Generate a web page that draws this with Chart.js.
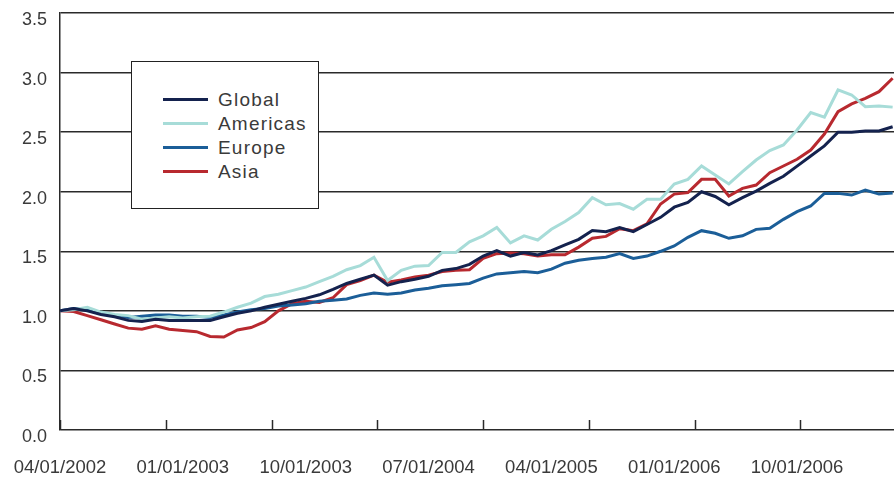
<!DOCTYPE html>
<html>
<head>
<meta charset="utf-8">
<script src="https://cdn.jsdelivr.net/npm/chart.js@4.4.1/dist/chart.umd.min.js"></script>
<style>
  html, body { margin: 0; padding: 0; background: #fff; overflow: hidden; }
  #wrap { position: relative; width: 894px; height: 481px; }
  #legend {
    position: absolute; left: 131px; top: 61px; width: 186px; height: 146px;
    border: 1px solid #222; background: #fff; box-sizing: content-box;
    font-family: "Liberation Sans", Arial, sans-serif; font-size: 19px; color: #3a3a3a;
    letter-spacing: 1.2px;
  }
  #legend .row { position: absolute; left: 0; height: 24px; width: 100%; }
  #legend .swatch { position: absolute; left: 31px; top: 10px; width: 45px; height: 3px; }
  #legend .lbl { position: absolute; left: 86px; top: 0; line-height: 24px; }
</style>
</head>
<body>
<div id="wrap">
  <canvas id="chart" width="894" height="481"></canvas>
  <div id="legend"></div>
</div>
<script>
// month-end index values, 04/2002 onwards (one point per month)
const tickLabels = ['04/01/2002', '01/01/2003', '10/01/2003', '07/01/2004', '04/01/2005', '01/01/2006', '10/01/2006'];
const labelStep = 9;       // one label every 9 months
const tickMarkStep = 7.75; // little tick marks on the date axis

const seriesNames = ['Global', 'Americas', 'Europe', 'Asia'];
const seriesColors = ['#14224e', '#a7dcd8', '#1b5e98', '#b8292f'];

const globalVals = [
  1.00, 1.02, 1.00, 0.97, 0.95, 0.92, 0.91, 0.93, 0.92, 0.92,
  0.92, 0.92, 0.95, 0.98, 1.00, 1.03, 1.055, 1.08, 1.105, 1.135,
  1.18, 1.23, 1.265, 1.30, 1.215, 1.245, 1.265, 1.29, 1.34, 1.355,
  1.39, 1.46, 1.505, 1.46, 1.49, 1.47, 1.505, 1.553, 1.60, 1.675,
  1.665, 1.70, 1.665, 1.725, 1.785, 1.87, 1.91, 2.00, 1.96, 1.89,
  1.95, 2.005, 2.07, 2.13, 2.215, 2.30, 2.385, 2.50, 2.50, 2.51,
  2.51, 2.545
];
const americasVals = [
  1.00, 1.01, 1.03, 0.99, 0.97, 0.96, 0.93, 0.94, 0.95, 0.94,
  0.95, 0.955, 0.99, 1.03, 1.065, 1.12, 1.14, 1.17, 1.20, 1.245,
  1.29, 1.345, 1.38, 1.45, 1.255, 1.34, 1.375, 1.38, 1.49, 1.49,
  1.58, 1.63, 1.70, 1.57, 1.63, 1.595, 1.685, 1.75, 1.825, 1.95,
  1.89, 1.90, 1.853, 1.936, 1.936, 2.065, 2.104, 2.216, 2.141, 2.065,
  2.168, 2.266, 2.345, 2.392, 2.518, 2.664, 2.625, 2.854, 2.812, 2.714,
  2.72, 2.71
];
const europeVals = [
  1.00, 1.02, 1.01, 0.98, 0.96, 0.945, 0.955, 0.965, 0.965, 0.955,
  0.955, 0.945, 0.965, 0.99, 1.01, 1.02, 1.04, 1.05, 1.06, 1.08,
  1.09, 1.10, 1.13, 1.15, 1.14, 1.15, 1.175, 1.19, 1.21, 1.22,
  1.23, 1.275, 1.31, 1.32, 1.33, 1.32, 1.35, 1.40, 1.425, 1.44,
  1.45, 1.48, 1.44, 1.46, 1.50, 1.545, 1.617, 1.673, 1.651, 1.609,
  1.63, 1.684, 1.693, 1.768, 1.833, 1.88, 1.986, 1.986, 1.972, 2.014,
  1.98, 1.99
];
const asiaVals = [
  1.00, 0.995, 0.96, 0.925, 0.89, 0.855, 0.845, 0.875, 0.845, 0.835,
  0.825, 0.785, 0.78, 0.84, 0.86, 0.91, 1.00, 1.06, 1.08, 1.07,
  1.11, 1.22, 1.255, 1.30, 1.24, 1.26, 1.285, 1.30, 1.33, 1.34,
  1.345, 1.44, 1.48, 1.485, 1.48, 1.46, 1.47, 1.47, 1.535, 1.61,
  1.625, 1.69, 1.673, 1.73, 1.897, 1.98, 1.992, 2.104, 2.104, 1.964,
  2.028, 2.056, 2.16, 2.216, 2.272, 2.35, 2.484, 2.672, 2.737, 2.784,
  2.84, 2.952
];

const allVals = [globalVals, americasVals, europeVals, asiaVals];
const FONT = '"Liberation Sans", Arial, sans-serif';
const TEXT = '#3a3a3a';
const GRID = '#2a2a2a';

const datasets = seriesNames.map((name, s) => ({
  label: name,
  data: allVals[s].map((v, i) => ({ x: i, y: v })),
  borderColor: seriesColors[s],
  backgroundColor: seriesColors[s],
  borderWidth: 3,
  pointRadius: 0,
  tension: 0,
  fill: false
}));

// small tick marks standing up from the date axis, inside the plot
const axisTicks = {
  id: 'axisTicks',
  afterDatasetsDraw(chart) {
    const { ctx, chartArea, scales } = chart;
    ctx.save();
    ctx.strokeStyle = GRID;
    ctx.lineWidth = 1.5;
    for (let v = 0; v <= scales.x.max; v += tickMarkStep) {
      const px = Math.round(scales.x.getPixelForValue(v)) + 0.5;
      ctx.beginPath();
      ctx.moveTo(px, chartArea.bottom);
      ctx.lineTo(px, chartArea.bottom - 10);
      ctx.stroke();
    }
    ctx.restore();
  }
};

new Chart(document.getElementById('chart'), {
  type: 'line',
  data: { datasets },
  plugins: [axisTicks],
  options: {
    responsive: false,
    animation: false,
    devicePixelRatio: 1,
    layout: { padding: { top: 13, right: 0, bottom: 4, left: 0 } },
    plugins: { legend: { display: false }, tooltip: { enabled: false } },
    scales: {
      x: {
        type: 'linear',
        min: 0,
        max: 61.1,
        grid: { display: false, drawTicks: false },
        border: { display: false },
        afterBuildTicks: (scale) => {
          scale.ticks = tickLabels.map((_, k) => ({ value: k * labelStep }));
        },
        afterFit: (scale) => {
          scale.height = 47;
          scale.paddingLeft = 0;
          scale.paddingRight = 0;
        },
        ticks: {
          autoSkip: false,
          maxRotation: 0,
          padding: 27,
          color: TEXT,
          font: { family: FONT, size: 18.5 },
          callback: (v) => tickLabels[Math.round(v / labelStep)] ?? ''
        }
      },
      y: {
        min: 0,
        max: 3.5,
        afterFit: (scale) => {
          scale.width = 60;
          scale.paddingTop = 0;
          scale.paddingBottom = 0;
        },
        grid: { color: GRID, lineWidth: 1.5, drawTicks: false },
        border: { color: GRID, width: 1.5 },
        ticks: {
          stepSize: 0.5,
          padding: 13,
          labelOffset: 7,
          color: TEXT,
          font: { family: FONT, size: 18 },
          callback: (v) => v.toFixed(1)
        }
      }
    }
  }
});

// legend box drawn over the plot
const legend = document.getElementById('legend');
seriesNames.forEach((name, s) => {
  const row = document.createElement('div');
  row.className = 'row';
  row.style.top = (26 + 24 * s) + 'px';
  row.innerHTML = '<span class="swatch" style="background:' + seriesColors[s] + '"></span><span class="lbl">' + name + '</span>';
  legend.appendChild(row);
});
</script>
</body>
</html>
